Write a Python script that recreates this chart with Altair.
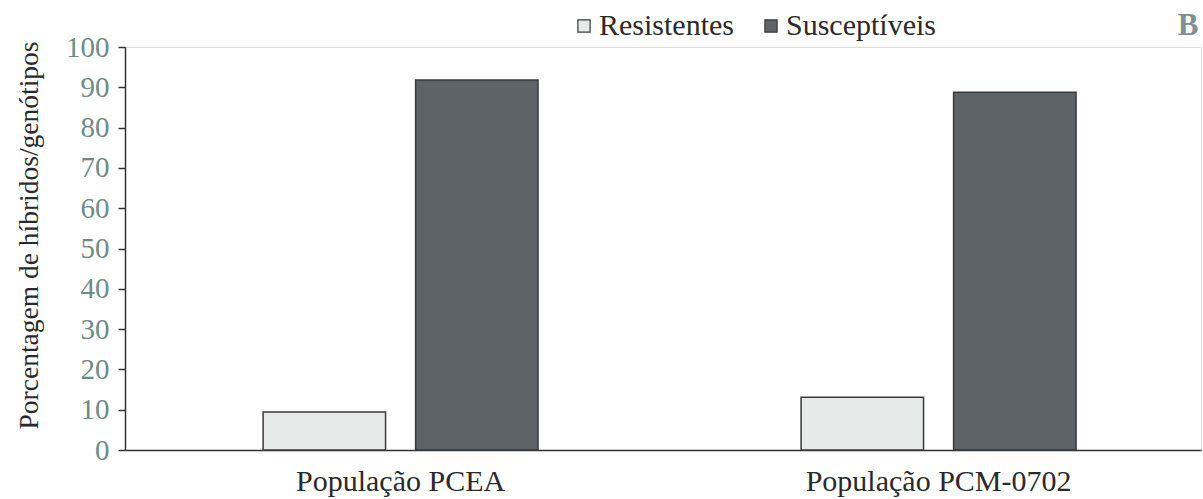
import altair as alt
import pandas as pd

populations = ["População PCEA", "População PCM-0702"]
groups = ["Resistentes", "Susceptíveis"]
resistentes = [9.4, 13.1]
susceptiveis = [91.8, 88.8]

rows = []
for i, p in enumerate(populations):
    rows.append({"pop": p, "grupo": groups[0], "valor": resistentes[i]})
    rows.append({"pop": p, "grupo": groups[1], "valor": susceptiveis[i]})
df = pd.DataFrame(rows)

FONT = "Liberation Serif"

bars = alt.Chart(df).mark_bar(stroke="#3a3a3a", strokeWidth=1.5).encode(
    x=alt.X("pop:N", sort=populations,
            scale=alt.Scale(paddingInner=0.489, paddingOuter=0.2445, align=0.525),
            axis=alt.Axis(title=None, labelAngle=0, ticks=False, labelPadding=16, labelLimit=0,
                          labelFontSize=30, labelColor="#2a2a2a", labelFont=FONT,
                          domainColor="#333333", domainWidth=1.5)),
    xOffset=alt.XOffset("grupo:N", sort=groups,
                        scale=alt.Scale(paddingInner=0.197, paddingOuter=0)),
    y=alt.Y("valor:Q",
            scale=alt.Scale(domain=[0, 100]),
            axis=alt.Axis(title="Porcentagem de híbridos/genótipos", values=list(range(0, 101, 10)),
                          grid=False, tickSize=7, tickColor="#333333", tickWidth=1.5,
                          domainColor="#333333", domainWidth=1.5,
                          labelFontSize=29, labelColor="#6f8a89", labelFont=FONT, labelPadding=9,
                          titleFontSize=27.5, titleFont=FONT, titleColor="#2a2a2a",
                          titleFontWeight="normal", titlePadding=22, titleY=188)),
    fill=alt.Fill("grupo:N", sort=groups,
                  scale=alt.Scale(domain=groups, range=["#e6eae8", "#5e6367"]),
                  legend=alt.Legend(title=None, orient="none", direction="horizontal",
                                    legendX=444, legendY=-36,
                                    symbolType="square", symbolSize=150,
                                    symbolStrokeColor="#3a3a3a", symbolStrokeWidth=1.2,
                                    labelFontSize=30, labelFont=FONT, labelColor="#2a2a2a",
                                    columnPadding=22, symbolOffset=0, labelOffset=0, labelLimit=0)),
)

label_b = alt.Chart(pd.DataFrame({"t": ["B"]})).mark_text(
    font=FONT, fontSize=31, fontWeight="bold", color="#7d9190", align="center", baseline="middle"
).encode(x=alt.value(1063), y=alt.value(-21), text="t:N")

chart = alt.layer(bars, label_b).properties(
    width=1076, height=403,
    autosize=alt.AutoSizeParams(type="none"),
    padding={"left": 125, "top": 47, "right": 2, "bottom": 49},
).configure_view(stroke=None).configure(background="white")

chart.save("out.html", embed_options={"renderer": "svg", "actions": False})
